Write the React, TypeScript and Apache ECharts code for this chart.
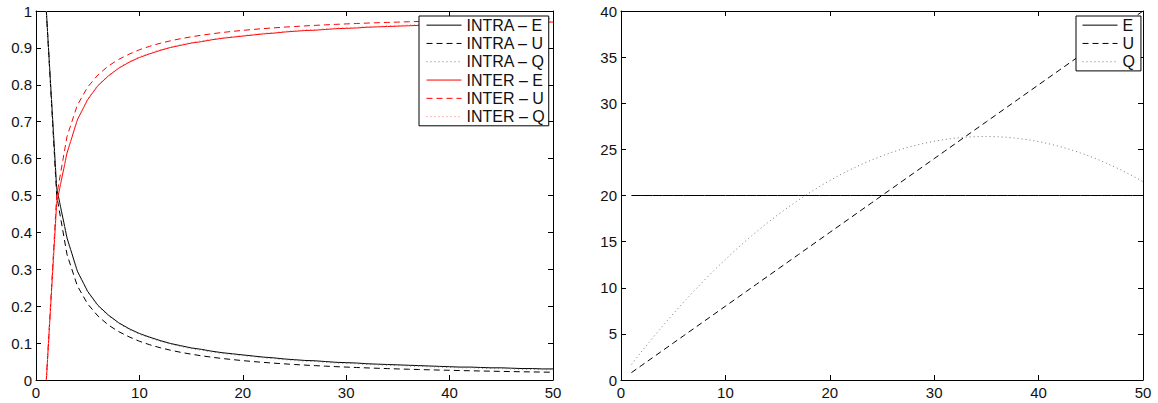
import React, { useEffect, useRef } from "react";
import * as echarts from "echarts";

const XS = [1, 2, 3, 4, 5, 6, 7, 8, 9, 10, 11, 12, 13, 14, 15, 16, 17, 18, 19, 20, 21, 22, 23, 24, 25, 26, 27, 28, 29, 30, 31, 32, 33, 34, 35, 36, 37, 38, 39, 40, 41, 42, 43, 44, 45, 46, 47, 48, 49, 50];

const X_TICKS = { min: 0, max: 50, interval: 10 };
const LEFT_Y = { min: 0, max: 1, interval: 0.1 };
const RIGHT_Y = { min: 0, max: 40, interval: 5 };

const INTRA_E = [1.0, 0.52, 0.385, 0.295, 0.24, 0.202, 0.176, 0.155, 0.139, 0.126, 0.116, 0.107, 0.099, 0.093, 0.087, 0.083, 0.078, 0.074, 0.071, 0.068, 0.065, 0.062, 0.06, 0.057, 0.055, 0.053, 0.052, 0.05, 0.048, 0.047, 0.046, 0.044, 0.043, 0.042, 0.041, 0.04, 0.039, 0.038, 0.037, 0.036, 0.035, 0.035, 0.034, 0.033, 0.033, 0.032, 0.031, 0.031, 0.03, 0.03];
const INTRA_U = [1.0, 0.5, 0.34, 0.255, 0.206, 0.173, 0.149, 0.131, 0.117, 0.105, 0.0955, 0.0875, 0.0808, 0.075, 0.07, 0.0656, 0.0618, 0.0583, 0.0553, 0.0525, 0.05, 0.0477, 0.0457, 0.0438, 0.042, 0.0404, 0.0389, 0.0375, 0.0362, 0.035, 0.0339, 0.0328, 0.0318, 0.0309, 0.03, 0.0292, 0.0284, 0.0276, 0.0269, 0.0263, 0.0256, 0.025, 0.0244, 0.0239, 0.0233, 0.0228, 0.0223, 0.0219, 0.0214, 0.021];
const INTRA_Q = [1.0, 0.518, 0.383, 0.293, 0.238, 0.2, 0.174, 0.153, 0.137, 0.124, 0.114, 0.105, 0.097, 0.091, 0.085, 0.081, 0.076, 0.072, 0.069, 0.066, 0.063, 0.06, 0.058, 0.055, 0.053, 0.051, 0.05, 0.048, 0.046, 0.045, 0.044, 0.042, 0.041, 0.04, 0.039, 0.038, 0.037, 0.036, 0.035, 0.034, 0.033, 0.033, 0.032, 0.031, 0.031, 0.03, 0.029, 0.029, 0.028, 0.028];
const INTER_E = [0.0, 0.48, 0.615, 0.705, 0.76, 0.798, 0.824, 0.845, 0.861, 0.874, 0.884, 0.893, 0.901, 0.907, 0.913, 0.917, 0.922, 0.926, 0.929, 0.932, 0.935, 0.938, 0.94, 0.943, 0.945, 0.947, 0.948, 0.95, 0.952, 0.953, 0.954, 0.956, 0.957, 0.958, 0.959, 0.96, 0.961, 0.962, 0.963, 0.964, 0.965, 0.965, 0.966, 0.967, 0.967, 0.968, 0.969, 0.969, 0.97, 0.97];
const INTER_U = [0.0, 0.5, 0.66, 0.745, 0.794, 0.827, 0.851, 0.869, 0.883, 0.895, 0.9045, 0.9125, 0.9192, 0.925, 0.93, 0.9344, 0.9382, 0.9417, 0.9447, 0.9475, 0.95, 0.9523, 0.9543, 0.9562, 0.958, 0.9596, 0.9611, 0.9625, 0.9638, 0.965, 0.9661, 0.9672, 0.9682, 0.9691, 0.97, 0.9708, 0.9716, 0.9724, 0.9731, 0.9737, 0.9744, 0.975, 0.9756, 0.9761, 0.9767, 0.9772, 0.9777, 0.9781, 0.9786, 0.979];
const INTER_Q = [0.0, 0.482, 0.617, 0.707, 0.762, 0.8, 0.826, 0.847, 0.863, 0.876, 0.886, 0.895, 0.903, 0.909, 0.915, 0.919, 0.924, 0.928, 0.931, 0.934, 0.937, 0.94, 0.942, 0.945, 0.947, 0.949, 0.95, 0.952, 0.954, 0.955, 0.956, 0.958, 0.959, 0.96, 0.961, 0.962, 0.963, 0.964, 0.965, 0.966, 0.967, 0.967, 0.968, 0.969, 0.969, 0.97, 0.971, 0.971, 0.972, 0.972];

const R_E = [20, 20, 20, 20, 20, 20, 20, 20, 20, 20, 20, 20, 20, 20, 20, 20, 20, 20, 20, 20, 20, 20, 20, 20, 20, 20, 20, 20, 20, 20, 20, 20, 20, 20, 20, 20, 20, 20, 20, 20, 20, 20, 20, 20, 20, 20, 20, 20, 20, 20];
const R_U = [0.8, 1.6, 2.4, 3.2, 4.0, 4.8, 5.6, 6.4, 7.2, 8.0, 8.8, 9.6, 10.4, 11.2, 12.0, 12.8, 13.6, 14.4, 15.2, 16.0, 16.8, 17.6, 18.4, 19.2, 20.0, 20.8, 21.6, 22.4, 23.2, 24.0, 24.8, 25.6, 26.4, 27.2, 28.0, 28.8, 29.6, 30.4, 31.2, 32.0, 32.8, 33.6, 34.4, 35.2, 36.0, 36.8, 37.6, 38.4, 39.2, 40.0];
const R_Q = [1.69, 3.13, 4.52, 5.87, 7.18, 8.44, 9.66, 10.84, 11.98, 13.07, 14.12, 15.13, 16.09, 17.01, 17.89, 18.72, 19.51, 20.26, 20.96, 21.63, 22.25, 22.82, 23.36, 23.85, 24.29, 24.7, 25.06, 25.38, 25.65, 25.88, 26.07, 26.22, 26.32, 26.38, 26.4, 26.37, 26.31, 26.19, 26.04, 25.84, 25.6, 25.32, 24.99, 24.62, 24.21, 23.75, 23.25, 22.71, 22.13, 21.5];

const LEFT_NAMES = ["INTRA \u2013 E", "INTRA \u2013 U", "INTRA \u2013 Q", "INTER \u2013 E", "INTER \u2013 U", "INTER \u2013 Q"];
const RIGHT_NAMES = ["E", "U", "Q"];

const FONT = "'Liberation Sans', Arial, Helvetica, sans-serif";

function pairs(ys: number[]) {
  return XS.map((x, i) => [x, ys[i]]);
}

function axisPair(kind: "x" | "y", gridIndex: number, range: any, labelMargin: number) {
  const common = {
    gridIndex,
    type: "value",
    min: range.min,
    max: range.max,
    interval: range.interval,
    splitLine: { show: false },
    axisLine: { show: true, onZero: false, lineStyle: { color: "#000", width: 1 } },
    axisTick: { show: true, inside: true, length: 5, lineStyle: { color: "#000", width: 1 } },
  };
  return [
    {
      ...common,
      position: kind === "x" ? "bottom" : "left",
      axisLabel: { show: true, color: "#111", fontSize: 15, fontFamily: FONT, margin: labelMargin },
    },
    {
      ...common,
      position: kind === "x" ? "top" : "right",
      axisLabel: { show: false },
    },
  ];
}

function lineSeries(name: string, data: number[], color: string, type: any, xi: number, yi: number) {
  return {
    name,
    type: "line",
    xAxisIndex: xi,
    yAxisIndex: yi,
    data: pairs(data),
    showSymbol: false,
    symbol: "none",
    lineStyle: { color, width: 1, type },
    itemStyle: { color },
    z: 2,
  };
}

const DASH = [6, 4];
const DOT = [1, 3];

export default function App() {
  const ref = useRef<HTMLDivElement>(null);
  useEffect(() => {
    if (!ref.current) return;
    const chart = echarts.init(ref.current, undefined, { renderer: "svg" });
    const legendCommon = {
      orient: "vertical",
      backgroundColor: "#fff",
      borderColor: "#000",
      borderWidth: 1,
      borderRadius: 0,
      itemWidth: 35,
      itemHeight: 14,
      itemGap: 0,
      align: "left",
      selectedMode: false,
      itemStyle: { opacity: 0, borderWidth: 0 },
      lineStyle: { width: 1 },
      textStyle: { color: "#111", fontSize: 16, fontFamily: FONT, lineHeight: 18.3 },
      z: 10,
    };
    chart.setOption({
      animation: false,
      backgroundColor: "#fff",
      grid: [
        { left: 36, top: 11, width: 517, height: 369 },
        { left: 621, top: 11, width: 522, height: 369 },
      ],
      xAxis: [...axisPair("x", 0, X_TICKS, 5), ...axisPair("x", 1, X_TICKS, 5)],
      yAxis: [...axisPair("y", 0, LEFT_Y, 4), ...axisPair("y", 1, RIGHT_Y, 4)],
      legend: [
        { ...legendCommon, data: LEFT_NAMES, left: 419, top: 16, padding: [0, 4, 0, 7] },
        { ...legendCommon, data: RIGHT_NAMES, left: 1076, top: 16, padding: [0, 6, 0, 6] },
      ],
      series: [
        lineSeries(LEFT_NAMES[0], INTRA_E, "#000", "solid", 0, 0),
        lineSeries(LEFT_NAMES[1], INTRA_U, "#000", DASH, 0, 0),
        lineSeries(LEFT_NAMES[2], INTRA_Q, "#777", DOT, 0, 0),
        lineSeries(LEFT_NAMES[3], INTER_E, "#ff0000", "solid", 0, 0),
        lineSeries(LEFT_NAMES[4], INTER_U, "#ff0000", DASH, 0, 0),
        lineSeries(LEFT_NAMES[5], INTER_Q, "#ff7777", DOT, 0, 0),
        lineSeries(RIGHT_NAMES[0], R_E, "#000", "solid", 2, 2),
        lineSeries(RIGHT_NAMES[1], R_U, "#000", DASH, 2, 2),
        lineSeries(RIGHT_NAMES[2], R_Q, "#777", DOT, 2, 2),
      ],
    });
    return () => chart.dispose();
  }, []);
  return (
    <div
      ref={ref}
      style={{ position: "fixed", left: 0, top: 0, width: 1158, height: 403 }}
    />
  );
}
